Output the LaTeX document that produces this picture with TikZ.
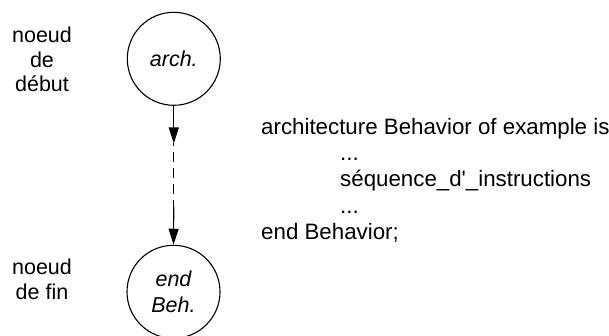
\documentclass[tikz,border=0pt]{standalone}
\usepackage{fontspec}
\setmainfont{Liberation Sans}
\newfontfamily\qfont{Liberation Sans}
\usetikzlibrary{arrows.meta}
\tikzset{
  lbl/.style={inner sep=0pt, align=center, font=\fontsize{21.5}{24.5}\selectfont},
  code/.style={inner sep=0pt, align=left, font=\fontsize{22.3}{26.25}\selectfont},
  state/.style={circle, draw, line width=1.1pt, minimum size=93pt, inner sep=0pt,
    align=center, font=\fontsize{21.5}{26.5}\selectfont\itshape},
  flow/.style={line width=1.1pt, -{Triangle[length=16pt,width=10pt]}},
  dashflow/.style={line width=1.1pt, dash pattern=on 10pt off 6pt, dash phase=-9pt}
}
\begin{document}
\begin{tikzpicture}[x=1pt,y=-1pt]
\useasboundingbox (0,0) rectangle (609,336);
\node[state] (a) at (173.8,58.8) {arch.};
\node[state] (b) at (173.5,291.8) {end\\Beh.};
\coordinate (m1) at (173.8,143.5);
\coordinate (m2) at (173.8,207);
\draw[flow] (a.south) -- (m1);
\draw[dashflow] (m1) -- (m2);
\draw[flow] (m2) -- (b.north);
\node[lbl, anchor=base] (t1) at (42,91.7) {noeud\\de\\début};
\node[lbl, anchor=base] (t2) at (42,299) {noeud\\de fin};
\node[code, anchor=base west] (c) at (261,239.3) {architecture Behavior of example is\\
\hspace*{79pt}...\\
\hspace*{79pt}séquence\_d{\qfont '}\_instructions\\
\hspace*{79pt}...\\
end Behavior;};
\end{tikzpicture}
\end{document}
